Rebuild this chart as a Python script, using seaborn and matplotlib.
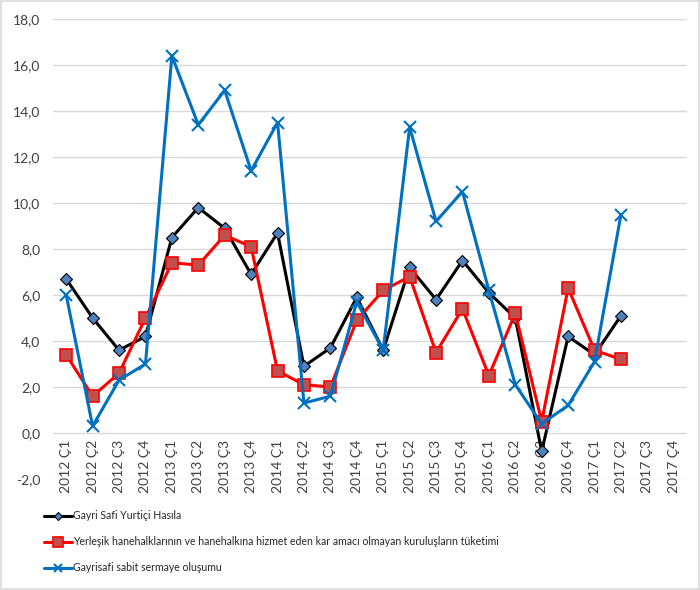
import numpy as np
import pandas as pd
import matplotlib
matplotlib.use("Agg")
import matplotlib.pyplot as plt
import seaborn as sns
from matplotlib.patches import Rectangle
from matplotlib.ticker import FuncFormatter

categories = [f"{y} Ç{q}" for y in range(2012, 2018) for q in range(1, 5)]

gdp = [6.7, 5.0, 3.6, 4.2, 8.5, 9.8, 8.9, 6.9, 8.7, 2.9, 3.7, 5.9,
       3.6, 7.2, 5.8, 7.5, 6.1, 5.0, -0.8, 4.2, 3.4, 5.1]
consumption = [3.4, 1.6, 2.6, 5.0, 7.4, 7.3, 8.6, 8.1, 2.7, 2.1, 2.0, 4.9,
               6.2, 6.8, 3.5, 5.4, 2.5, 5.2, 0.5, 6.3, 3.6, 3.2]
investment = [6.0, 0.3, 2.3, 3.0, 16.4, 13.4, 14.9, 11.4, 13.5, 1.3, 1.6, 5.7,
              3.6, 13.3, 9.2, 10.5, 6.2, 2.1, 0.4, 1.2, 3.1, 9.5]

labels = ["Gayri Safi Yurtiçi Hasıla",
          "Yerleşik hanehalklarının ve hanehalkına hizmet eden kar amacı olmayan kuruluşların tüketimi",
          "Gayrisafi sabit sermaye oluşumu"]

sns.set_theme(style="white")
plt.rcParams['font.family'] = ['Lato', 'DejaVu Sans']

fig = plt.figure(figsize=(7, 5.9), dpi=100)
ax = fig.add_axes([53/700, 1-479/590, (687-53)/700, (479-19)/590])

styles = [
    dict(color="black", marker="D", markersize=6, markerfacecolor="#4F81BD",
         markeredgecolor="black", markeredgewidth=0.8),
    dict(color="#FF0000", marker="s", markersize=9, markerfacecolor="#C0504D",
         markeredgecolor="#FF0000", markeredgewidth=1.2),
    dict(color="#0070C0", marker="x", markersize=8, markeredgecolor="#0070C0",
         markeredgewidth=1.5),
]
for vals, lab, st in zip([gdp, consumption, investment], labels, styles):
    sns.lineplot(x=np.arange(len(vals)), y=vals, ax=ax, label=lab,
                 linewidth=2.2, **st)

for s in ["top", "right", "left"]:
    ax.spines[s].set_visible(False)
ax.spines["bottom"].set_position(("data", 0))
ax.spines["bottom"].set_visible(False)

ax.set_xlim(-0.5, len(categories) - 0.5)
ax.set_ylim(-2, 18)
ax.set_yticks(np.arange(-2, 19, 2))
ax.yaxis.set_major_formatter(FuncFormatter(lambda v, p: f"{v:.1f}".replace(".", ",")))
ax.set_xticks(np.arange(len(categories)))
ax.set_xticklabels(categories)
ax.tick_params(axis='x', length=0, pad=5, labelrotation=90, labelsize=10, labelcolor="#404040")
ax.tick_params(axis='y', labelsize=10, labelcolor="#404040", length=0, pad=9)
ax.grid(axis='y', color="#D9D9D9", linewidth=1)
ax.set_axisbelow(True)
ax.set_xlabel("")
ax.set_ylabel("")

handles, labs = ax.get_legend_handles_labels()
ax.legend_.remove()
fig.legend(handles, labs, loc="upper left", bbox_to_anchor=(40/700, 1-506/590),
           frameon=False, fontsize=7.6, labelspacing=1.42, handlelength=2.6,
           handletextpad=0.15, borderaxespad=0, markerscale=0.75)

fig.patches.append(Rectangle((0.002, 0.002), 0.996, 0.996, transform=fig.transFigure,
                             fill=False, edgecolor="#D9D9D9", linewidth=1.2))

fig.savefig("out.png", dpi=100)
